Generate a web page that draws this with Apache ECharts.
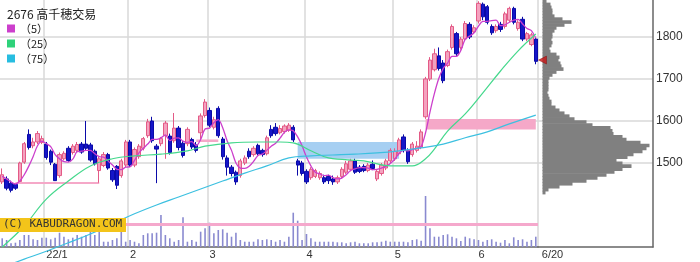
<!DOCTYPE html>
<html><head><meta charset="utf-8">
<script src="https://cdn.jsdelivr.net/npm/echarts@6/dist/echarts.min.js"></script>
<style>html,body{margin:0;padding:0;background:#fff}#c{width:700px;height:262px}</style>
</head><body><div id="c"></div>
<script>
// trading days shown (Dec 17 2021 .. Jun 20 2022)
const tradingMonths = [
  [2021,12,[17,20,21,22,23,24,27,28,29,30]],
  [2022,1,[4,5,6,7,11,12,13,14,17,18,19,20,21,24,25,26,27,28,31]],
  [2022,2,[1,2,3,4,7,8,9,10,14,15,16,17,18,21,22,24,25,28]],
  [2022,3,[1,2,3,4,7,8,9,10,11,14,15,16,17,18,22,23,24,25,28,29,30,31]],
  [2022,4,[1,4,5,6,7,8,11,12,13,14,15,18,19,20,21,22,25,26,27,28]],
  [2022,5,[2,6,9,10,11,12,13,16,17,18,19,20,23,24,25,26,27,30,31]],
  [2022,6,[1,2,3,6,7,8,9,10,13,14,15,16,17,20]]
];
const openP = [1455,1462,1452,1449,1456,1502,1568,1541,1550,1549,1545,1528,1497,1470,1510,1535,1525,1530,1545,1545,1543,1528,1482,1494,1520,1482,1492,1470,1495,1550,1495,1515,1535,1565,1600,1540,1546,1565,1564,1553,1583,1547,1546,1556,1543,1572,1613,1625,1585,1630,1557,1512,1490,1478,1470,1500,1528,1520,1542,1530,1522,1580,1585,1572,1575,1578,1585,1505,1500,1480,1465,1468,1465,1465,1468,1462,1455,1468,1478,1485,1505,1490,1492,1482,1497,1462,1475,1488,1505,1510,1522,1562,1530,1520,1530,1538,1610,1700,1722,1755,1738,1732,1775,1808,1775,1795,1830,1812,1838,1878,1872,1825,1815,1830,1825,1840,1868,1820,1842,1795,1782,1795];
const closeP = [1472,1440,1435,1440,1500,1546,1537,1550,1570,1558,1513,1502,1458,1520,1523,1506,1540,1544,1526,1535,1507,1498,1510,1520,1488,1460,1447,1505,1550,1495,1532,1540,1558,1598,1553,1533,1558,1595,1525,1583,1537,1518,1580,1538,1530,1612,1645,1590,1603,1565,1515,1490,1475,1455,1505,1512,1515,1535,1522,1520,1560,1565,1570,1582,1588,1590,1555,1495,1475,1455,1485,1482,1475,1455,1458,1455,1465,1485,1498,1505,1478,1480,1482,1495,1487,1480,1495,1505,1530,1528,1555,1530,1503,1545,1540,1574,1700,1745,1760,1725,1696,1765,1825,1760,1795,1832,1800,1822,1880,1848,1835,1810,1825,1818,1855,1868,1835,1835,1795,1808,1805,1742];
const lowP = [1450,1435,1430,1436,1455,1498,1532,1535,1545,1545,1508,1495,1458,1465,1506,1503,1520,1526,1522,1530,1503,1494,1453,1490,1484,1455,1438,1465,1490,1490,1490,1510,1530,1560,1548,1452,1540,1510,1520,1548,1530,1513,1540,1533,1525,1556,1608,1585,1580,1560,1508,1470,1468,1448,1465,1495,1510,1515,1518,1515,1518,1560,1565,1568,1570,1574,1550,1470,1470,1450,1460,1464,1460,1450,1450,1448,1450,1463,1474,1480,1474,1476,1478,1478,1483,1457,1470,1483,1500,1505,1518,1525,1498,1515,1525,1533,1605,1695,1718,1720,1690,1728,1770,1755,1770,1790,1795,1808,1832,1840,1830,1805,1810,1812,1820,1835,1830,1815,1790,1790,1778,1735];
const highP = [1487,1468,1458,1450,1503,1550,1580,1560,1576,1565,1550,1532,1500,1525,1528,1540,1545,1550,1550,1600,1548,1532,1515,1526,1524,1488,1495,1510,1555,1555,1537,1545,1562,1605,1610,1545,1562,1600,1570,1619,1588,1552,1585,1560,1550,1618,1652,1632,1610,1635,1562,1518,1495,1482,1510,1518,1535,1540,1546,1534,1565,1590,1595,1590,1592,1595,1590,1510,1505,1485,1490,1486,1480,1472,1472,1470,1470,1490,1505,1510,1510,1495,1497,1500,1506,1485,1500,1510,1535,1535,1560,1568,1535,1550,1552,1580,1705,1752,1772,1775,1745,1770,1830,1812,1800,1838,1835,1828,1885,1882,1876,1830,1830,1836,1860,1872,1872,1840,1848,1812,1810,1800];
const volume = [8.7,7,3.7,4.3,7,12,12,7.7,7,9.3,9.3,7.7,9.3,14.3,10.3,7.7,9.3,12,10.3,12,15.3,12,15.3,5.3,5.3,7,8.7,15.3,5.3,7,5.3,3.7,12,13.7,13.7,14.3,32,12,8.7,5.3,7,29.7,5.3,7,5.3,15.3,18.7,24.3,13.7,17,17.7,14.3,10.3,14.3,7,5.3,5.3,5.3,7.7,7,7.7,7,5.3,7,5.3,10.3,
  34.3,26.3,7,13,8.7,5.3,5.3,5.3,5.3,5.3,4.7,4.7,3.7,4.7,5.3,3.7,3.7,3.7,4.7,4.7,5.3,6.3,5.3,5.3,5.3,5.3,4.7,7,7.7,6.3,51,18.7,10.3,10.3,12,12.7,10.3,8.7,6,10.3,8.7,7.7,7,5.3,7,7.7,5.3,4.3,7,3.7,9.7,7,7.7,5.3,7,10.3];
const volumeAvg = 23;
const ma5 = [1468,1462,1455,1450,1457,1472,1492,1515,1541,1552,1546,1539,1520,1510,1503,1502,1509,1527,1528,1530,1530,1522,1515,1514,1505,1495,1485,1484,1490,1491,1506,1524,1535,1545,1556,1556,1560,1567,1553,1559,1560,1552,1549,1551,1541,1556,1581,1583,1596,1603,1584,1553,1530,1500,1488,1487,1492,1504,1518,1521,1530,1540,1547,1559,1573,1579,1577,1562,1541,1514,1493,1478,1474,1470,1471,1465,1462,1464,1472,1482,1486,1489,1489,1488,1484,1485,1488,1492,1499,1509,1523,1530,1529,1532,1535,1539,1572,1621,1665,1701,1725,1738,1754,1754,1768,1795,1802,1810,1826,1837,1837,1839,1840,1827,1829,1835,1840,1842,1831,1820,1815,1797];
const ma25 = [[0,1300],[5,1350],[10,1414],[15,1457],[20,1493],[25,1510],[30,1517],[36,1521],[42,1529],[46,1540],[52,1548],[58,1550],[63,1550],[66,1548],[70,1529],[74,1512],[82,1505],[88,1493],[93,1493],[96,1510],[98,1533],[101,1576],[105,1617],[109,1667],[113,1719],[117,1767],[121,1807]];
const ma75 = [[0,1252],[5,1271],[10,1290],[15,1310],[20,1331],[25,1355],[30,1379],[35,1400],[40,1419],[45,1438],[50,1457],[55,1476],[60,1493],[65,1512],[70,1517],[75,1519],[80,1521],[85,1524],[90,1529],[95,1536],[100,1545],[105,1560],[110,1574],[115,1593],[121,1614]];
// price gaps (窓): day before gap, start / end of drawn zone
const gaps = [{before:3,s:3,e:22},{before:44,s:44,e:49},{before:66,s:67,e:90},{before:95,s:96,e:121}];
// volume-by-price profile, 7-yen bins from 1300 upward
const profileBinBase = 1300, profileBinSize = 7;
const profile = [0,0,0,0,0,0,0,0,0,0,0,0,0,0,0,0,0,0,
  3,6,17,30,44,55,64,72,80,89,80,74,85,91,100,104,107,98,84,80,71,70,68,50,44,32,27,22,17,13,9,9,7,6,5,6,6,6,6,7,10,14,21,19,18,16,17,14,8,7,9,10,9,10,10,12,14,22,29,20,12,10,10,9,8,4];
const lastPrice = 1745;
const priceTicks = [1500,1600,1700,1800];

const dates = [];
const monthStart = new Set();
tradingMonths.forEach(([y,m,days], k) => {
  days.forEach((d, j) => {
    if (k > 0 && j === 0) monthStart.add(dates.length);
    dates.push(y + '/' + m + '/' + d);
  });
});
const lastIdx = dates.length - 1;
const bins = profile.map((_, i) => String(profileBinBase + profileBinSize * i));
const candleData = openP.map((o, i) => [o, closeP[i], lowP[i], highP[i]]);

const gapAreas = gaps.map(g => {
  const a = g.before, b = g.before + 1;
  let lo, hi, col;
  if (lowP[b] > highP[a]) { lo = highP[a]; hi = lowP[b]; col = '#f5a8c8'; }
  else { lo = highP[b]; hi = lowP[a]; col = '#a6cff2'; }
  return [{xAxis: dates[g.s], yAxis: lo, itemStyle: {color: col}}, {xAxis: dates[g.e], yAxis: hi}];
});

const gridColors = [1300,1400,1500,1600,1700,1800].map(v => priceTicks.includes(v) ? '#d9d9d9' : 'rgba(0,0,0,0)');
const yMin = 1300, yMax = 1888;

const chart = echarts.init(document.getElementById('c'), null, {renderer: 'canvas'});
chart.setOption({
  animation: false,
  backgroundColor: '#fff',
  title: {text: '2676 高千穂交易', left: 2, top: 3,
    textStyle: {fontSize: 12, fontWeight: 'normal', color: '#222', fontFamily: 'Noto Sans CJK JP'}},
  legend: {orient: 'vertical', left: 2, top: 18, itemWidth: 8, itemHeight: 8, itemGap: 4, icon: 'rect',
    selectedMode: false, data: ['（5）','（25）','（75）'],
    textStyle: {fontSize: 11, color: '#222', fontFamily: 'Noto Sans CJK JP'}},
  grid: [
    {left: 0, top: 0, width: 538, height: 247},
    {left: 0, top: 190, width: 538, height: 57},
    {left: 538, top: 0, width: 115, height: 247}
  ],
  xAxis: [
    {type: 'category', gridIndex: 0, data: dates, boundaryGap: true,
      axisLine: {show: true, lineStyle: {color: '#666', width: 1.5}},
      axisTick: {show: false},
      axisLabel: {interval: (i) => monthStart.has(i) || i === lastIdx, align: 'left', margin: 2,
        fontSize: 11, color: '#333', fontFamily: 'Liberation Sans',
        formatter: (v, i) => {
          const p = v.split('/');
          if (i === lastIdx) return '{e|' + p[1] + '/' + p[2] + '}';
          return p[1] === '1' ? p[0].slice(2) + '/' + p[1] : p[1];
        },
        rich: {e: {padding: [0, 0, 0, 6], fontSize: 11, color: '#333', fontFamily: 'Liberation Sans'}}},
      splitLine: {show: true, interval: (i) => monthStart.has(i), lineStyle: {color: '#d9d9d9', width: 1.5}}},
    {type: 'category', gridIndex: 1, data: dates, boundaryGap: true, show: false},
    {type: 'value', gridIndex: 2, min: -4.5, max: 110.5,
      axisLine: {show: true, onZero: false, lineStyle: {color: '#666', width: 1.5}},
      axisTick: {show: false}, axisLabel: {show: false}, splitLine: {show: false}}
  ],
  yAxis: [
    {type: 'value', gridIndex: 0, min: yMin, max: yMax, interval: 100,
      axisLine: {show: false}, axisTick: {show: false}, axisLabel: {show: false},
      splitLine: {show: true, lineStyle: {color: gridColors, width: 1.5}}},
    {type: 'value', gridIndex: 1, min: 0, max: 57, show: false},
    {type: 'category', gridIndex: 2, data: bins, show: false, boundaryGap: true},
    {type: 'value', gridIndex: 2, position: 'right', min: yMin, max: yMax, interval: 100,
      axisLine: {show: true, lineStyle: {color: '#666', width: 1.5}},
      axisTick: {show: false},
      axisLabel: {margin: 3, fontSize: 12, color: '#333', fontFamily: 'Liberation Sans',
        formatter: (v) => priceTicks.includes(v) ? String(v) : ''},
      splitLine: {show: true, lineStyle: {color: gridColors, width: 1.5}}}
  ],
  series: [
    {type: 'candlestick', name: 'price', xAxisIndex: 0, yAxisIndex: 0, data: candleData, z: 2,
      barWidth: 3.8,
      itemStyle: {color: '#f4a2bf', borderColor: '#e35a86', color0: '#1515c8', borderColor0: '#0a0aa8', borderWidth: 1},
      markArea: {silent: true, z: 1, data: gapAreas}},
    {type: 'line', name: '（5）', xAxisIndex: 0, yAxisIndex: 0, data: ma5, showSymbol: false, smooth: 0.3, z: 3,
      itemStyle: {color: '#cc3fcc'}, lineStyle: {color: '#cc3fcc', width: 1.3}},
    {type: 'line', name: '（25）', xAxisIndex: 0, yAxisIndex: 0, data: ma25, showSymbol: false, smooth: 0.4, z: 3, clip: false,
      itemStyle: {color: '#2ed27a'}, lineStyle: {color: '#44d88c', width: 1.2}},
    {type: 'line', name: '（75）', xAxisIndex: 0, yAxisIndex: 0, data: ma75, showSymbol: false, smooth: 0.4, z: 3, clip: false,
      itemStyle: {color: '#27bde0'}, lineStyle: {color: '#3cc0e0', width: 1.2}},
    {type: 'bar', name: 'volume', xAxisIndex: 1, yAxisIndex: 1, data: volume, barWidth: 1.6,
      itemStyle: {color: '#8a8ad0'}, z: 2,
      markLine: {silent: true, symbol: 'none', label: {show: false},
        lineStyle: {color: '#f5a8cc', width: 3, type: 'solid'}, data: [{yAxis: volumeAvg}]}},
    {type: 'bar', name: 'profile', xAxisIndex: 2, yAxisIndex: 2, data: profile, barWidth: 3.6,
      itemStyle: {color: '#808080'}, z: 2},
    {type: 'scatter', name: 'last', xAxisIndex: 2, yAxisIndex: 3, data: [[0, lastPrice]],
      symbol: 'triangle', symbolSize: [8, 8], symbolRotate: 90,
      itemStyle: {color: '#c81414', borderColor: '#800000', borderWidth: 0.5}, z: 5}
  ],
  graphic: [
    {type: 'rect', left: 0, top: 218, z: 100, shape: {width: 126, height: 14}, style: {fill: '#f3c41a'}},
    {type: 'text', left: 3, top: 219, z: 101,
      style: {text: '(C) KABUDRAGON.COM', fill: '#333', fontSize: 11, fontFamily: 'DejaVu Sans Mono'}}
  ]
});
</script></body></html>
